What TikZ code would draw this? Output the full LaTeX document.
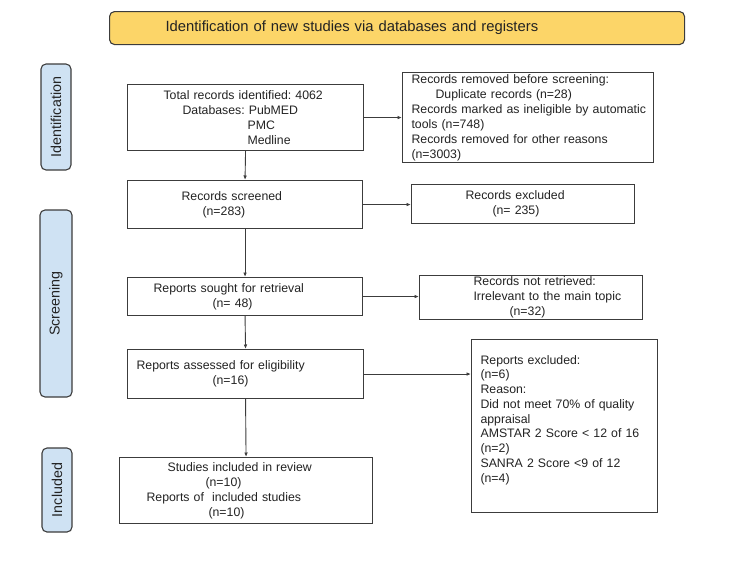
\documentclass[tikz,border=0pt]{standalone}
\usepackage{fontspec}
\setmainfont{Liberation Sans}
\usetikzlibrary{arrows.meta}
\definecolor{ttlfill}{RGB}{252,213,104}
\definecolor{lblfill}{RGB}{207,226,243}
\definecolor{edgecol}{RGB}{60,60,60}
\definecolor{txtcol}{RGB}{35,35,35}
\newcommand{\ind}[1]{\hspace*{#1pt}}
\begin{document}
\frenchspacing
\begin{tikzpicture}[x=1pt,y=-1pt,
  box/.style={draw=edgecol, line width=1.1pt, anchor=north west, inner sep=0pt,
    align=left, font=\fontsize{12.3}{15}\selectfont, fill=white, text=txtcol},
  lab/.style={draw=edgecol, line width=1.1pt, fill=lblfill, rounded corners=5pt,
    rotate=90, inner sep=0pt, font=\fontsize{14.3}{17}\selectfont, text=txtcol},
  ttl/.style={draw=edgecol, line width=1.1pt, fill=ttlfill, rounded corners=5pt,
    anchor=north west, inner sep=0pt, align=left, font=\fontsize{14.8}{17}\selectfont, text=txtcol},
  arr/.style={draw=edgecol, line width=0.9pt, -{Latex[length=4.5pt,width=3.6pt]}}]
\useasboundingbox (0,0) rectangle (750,563);

% title
\node[ttl, minimum width=575pt, minimum height=33pt, text width=575pt] (title) at (109,11)
  {\ind{56}Identification of new studies via databases and registers};

% phase labels
\node[lab, minimum width=106pt, minimum height=30pt] (lid) at (56,117) {Identification};
\node[lab, minimum width=187pt, minimum height=32pt] (lsc) at (56,303.5) {Screening};
\node[lab, minimum width=84pt, minimum height=30pt] (lin) at (57,490) {Included};

% boxes
\node[box, minimum width=236pt, minimum height=66pt, text width=236pt] (b1) at (127,84)
  {\ind{36}Total records identified: 4062\\
   \ind{55}Databases: PubMED\\
   \ind{120}PMC\\
   \ind{120}Medline};

\node[box, minimum width=251pt, minimum height=90pt, text width=251pt] (b2) at (402,72)
  {\ind{9}Records removed before screening:\\
   \ind{33}Duplicate records (n=28)\\
   \ind{9}Records marked as ineligible by automatic\\
   \ind{9}tools (n=748)\\
   \ind{9}Records removed for other reasons\\
   \ind{9}(n=3003)};

\node[box, minimum width=235pt, minimum height=48pt, text width=235pt] (b3) at (127,180)
  {\ind{54}Records screened\\
   \ind{75}(n=283)};

\node[box, minimum width=223pt, minimum height=39pt, text width=223pt] (b3x) at (411,184)
  {\ind{54}Records excluded\\
   \ind{81}(n= 235)};

\node[box, minimum width=235pt, minimum height=38pt, text width=235pt] (b4) at (127,277)
  {\ind{26}Reports sought for retrieval\\
   \ind{85}(n= 48)};

\node[box, minimum width=223pt, minimum height=44pt, text width=223pt] (b4x) at (419,275)
  {\ind{54}Records not retrieved:\\
   \ind{54}Irrelevant to the main topic\\
   \ind{90}(n=32)};

\node[box, minimum width=236pt, minimum height=49pt, text width=236pt] (b5) at (127,349)
  {\ind{9}Reports assessed for eligibility\\
   \ind{85}(n=16)};

\node[box, minimum width=186pt, minimum height=173pt, text width=186pt,
      font=\fontsize{12.3}{14.75}\selectfont] (b5x) at (471,339)
  {\ind{9}Reports excluded:\\
   \ind{9}(n=6)\\
   \ind{9}Reason:\\
   \ind{9}Did not meet 70\% of quality\\
   \ind{9}appraisal\\
   \ind{9}AMSTAR 2 Score < 12 of 16\\
   \ind{9}(n=2)\\
   \ind{9}SANRA 2 Score <9 of 12\\
   \ind{9}(n=4)\\
   \mbox{}};

\node[box, minimum width=253pt, minimum height=66pt, text width=253pt] (b6) at (119,457)
  {\ind{48}Studies included in review\\
   \ind{86}(n=10)\\
   \ind{27}Reports of~ included studies\\
   \ind{89}(n=10)};

% connectors
\draw[arr] (b1.south) -- (b3.north);
\draw[arr] (b1.east) -- (b1.east -| b2.west);
\draw[arr] (b3.east) -- (b3.east -| b3x.west);
\draw[arr] (b3.south) -- (b4.north);
\draw[arr] (b4.east) -- (b4.east -| b4x.west);
\draw[arr] (b4.south) -- (b5.north);
\draw[arr] (b5.east) -- (b5.east -| b5x.west);
\draw[arr] (b5.south) -- (b6.north);
\end{tikzpicture}
\end{document}
